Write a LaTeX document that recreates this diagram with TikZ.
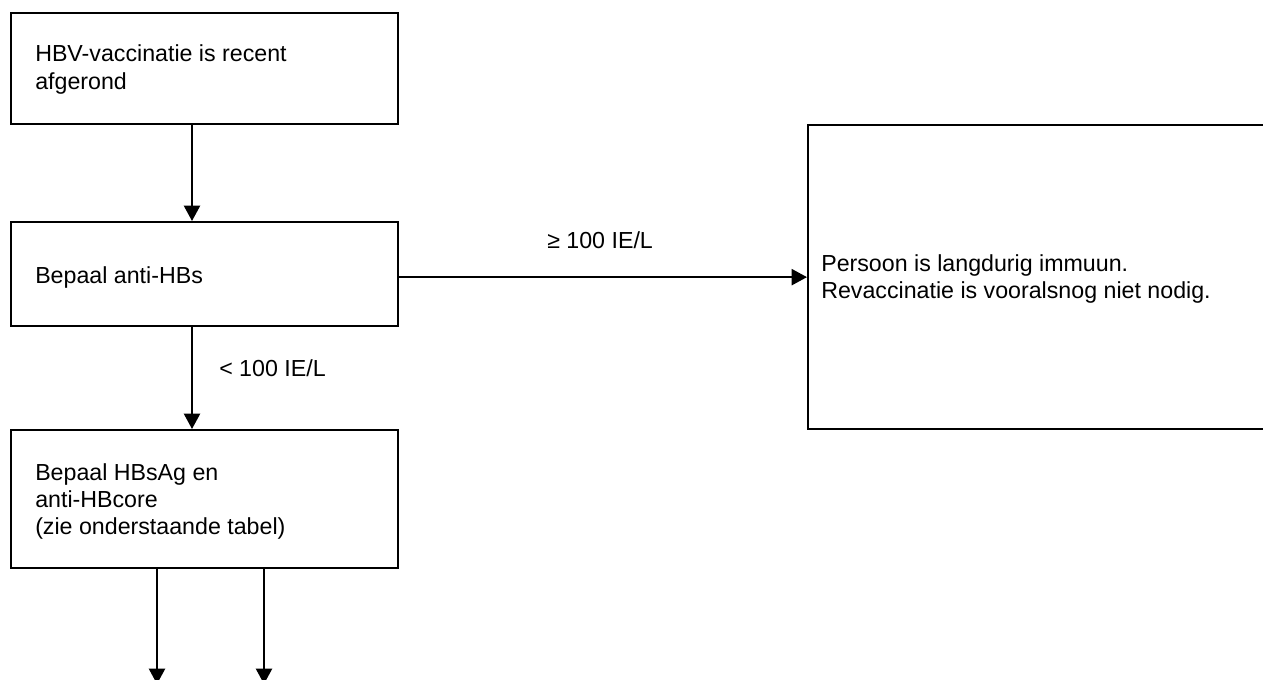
\documentclass[tikz,border=0pt]{standalone}
\usepackage{fontspec}
\setmainfont{Liberation Sans}
\usetikzlibrary{arrows.meta}
\tikzset{
  box/.style={draw=black, line width=1.7pt, inner sep=0pt, anchor=north west, fill=none},
  txt/.style={inner sep=0pt, anchor=base west, font=\fontsize{17.4}{20.5}\selectfont},
  arr/.style={draw=black, line width=1.7pt, -{Triangle[length=11.5pt,width=12pt]}},
}
\begin{document}
\begin{tikzpicture}[x=0.75pt,y=-0.75pt]
\useasboundingbox (0,0) rectangle (1263,679);
\clip (0,0) rectangle (1263,679);
% boxes
\node[box, minimum width=290.25pt, minimum height=83.25pt] (b1) at (10,12) {};
\node[box, minimum width=290.25pt, minimum height=78pt] (b2) at (10,221) {};
\node[box, minimum width=362.25pt, minimum height=228pt] (b3) at (807,124) {};
\node[box, minimum width=290.25pt, minimum height=103.5pt] (b4) at (10,429) {};
% texts
\node[txt] (t1a) at (35,61) {HBV-vaccinatie is recent};
\node[txt] (t1b) at (35,89) {afgerond};
\node[txt] (t2) at (35,283) {Bepaal anti-HBs};
\node[txt] (t3a) at (821,271) {Persoon is langdurig immuun.};
\node[txt] (t3b) at (821,298) {Revaccinatie is vooralsnog niet nodig.};
\node[txt] (t4a) at (35,480) {Bepaal HBsAg en};
\node[txt] (t4b) at (35,507) {anti-HBcore};
\node[txt] (t4c) at (35,534) {(zie onderstaande tabel)};
% labels
\node[txt] (l1) at (547,248) {≥ 100 IE/L};
\node[txt] (l2) at (219,376) {< 100 IE/L};
% connectors
\coordinate (v1) at (192,0);
\draw[arr] (v1 |- b1.south) -- (v1 |- b2.north);
\draw[arr] (v1 |- b2.south) -- (v1 |- b4.north);
\draw[arr] (b2.east |- b3.west) -- (b3.west);
\coordinate (e1) at (157,684);
\coordinate (e2) at (264,684);
\draw[arr] (e1 |- b4.south) -- (e1);
\draw[arr] (e2 |- b4.south) -- (e2);
\end{tikzpicture}
\end{document}
